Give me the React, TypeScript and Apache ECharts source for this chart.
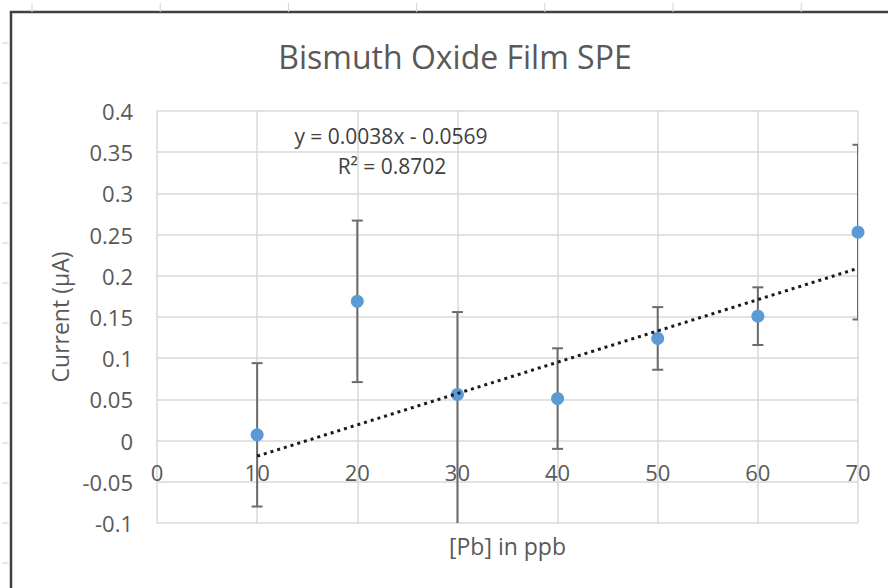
import React, { useEffect, useRef } from "react";
import * as echarts from "echarts";

const chartTitle = "Bismuth Oxide Film SPE";
const xAxisTitle = "[Pb] in ppb";
const yAxisTitle = "Current (µA)";

const concentrations = [10, 20, 30, 40, 50, 60, 70];
const currents = [0.007, 0.169, 0.056, 0.051, 0.124, 0.151, 0.253];
const errorPlus = [0.087, 0.098, 0.1, 0.061, 0.038, 0.035, 0.106];
const errorMinus = [0.087, 0.098, 0.17, 0.061, 0.038, 0.035, 0.106];

const trendSlope = 0.0038;
const trendIntercept = -0.0569;
const trendFrom = 10;
const trendTo = 70;
const trendEquation = "y = 0.0038x - 0.0569";
const trendR2 = "R² = 0.8702";

const xMin = 0, xMax = 70, xStep = 10;
const yMin = -0.1, yMax = 0.4, yStep = 0.05;

const FONT = "Open Sans";

export default function App() {
  const ref = useRef<HTMLDivElement>(null);

  useEffect(() => {
    if (!ref.current) return;
    const chart = echarts.init(ref.current, undefined, { renderer: "svg" });

    const scatterData = concentrations.map((x, i) => [x, currents[i]]);
    const errData = concentrations.map((x, i) => [
      x,
      currents[i],
      currents[i] - errorMinus[i],
      currents[i] + errorPlus[i],
    ]);
    const trendData = [
      [trendFrom, trendSlope * trendFrom + trendIntercept],
      [trendTo, trendSlope * trendTo + trendIntercept],
    ];

    const decor: any[] = [];
    for (let i = 0; i < 7; i++) {
      const x = 32 + i * 128.2;
      decor.push({
        type: "line",
        z: -5,
        shape: { x1: x, y1: 3, x2: x, y2: 12 },
        style: { stroke: "#d4d4d4", lineWidth: 1 },
      });
    }
    for (let i = 0; i < 14; i++) {
      const y = 43 + i * 40;
      decor.push({
        type: "line",
        z: -5,
        shape: { x1: 2, y1: y, x2: 10, y2: y },
        style: { stroke: "#d4d4d4", lineWidth: 1 },
      });
    }

    const option: any = {
      animation: false,
      backgroundColor: "#ffffff",
      textStyle: { fontFamily: FONT },
      grid: {
        left: 157,
        right: 30,
        top: 111,
        bottom: 65,
        containLabel: false,
        outerBoundsMode: "none",
      },
      xAxis: {
        type: "value",
        min: xMin,
        max: xMax,
        interval: xStep,
        name: xAxisTitle,
        nameLocation: "middle",
        nameGap: 11,
        nameTextStyle: { color: "#595959", fontSize: 23, fontFamily: FONT },
        axisLine: { show: false, onZero: false },
        axisTick: { show: false },
        axisLabel: { color: "#595959", fontSize: 22, margin: -62, fontFamily: FONT },
        splitLine: { show: true, lineStyle: { color: "#d9d9d9", width: 1.5 } },
      },
      yAxis: {
        type: "value",
        min: yMin,
        max: yMax,
        interval: yStep,
        name: yAxisTitle,
        nameLocation: "middle",
        nameGap: 83,
        nameTextStyle: { color: "#595959", fontSize: 23, fontFamily: FONT },
        axisLine: { show: false },
        axisTick: { show: false },
        axisLabel: {
          color: "#595959",
          fontSize: 22,
          margin: 24,
          fontFamily: FONT,
          formatter: (v: number) => String(parseFloat(v.toFixed(2))),
        },
        splitLine: { show: true, lineStyle: { color: "#d9d9d9", width: 1.5 } },
      },
      graphic: [
        {
          type: "rect",
          z: -10,
          shape: { x: 11, y: 12, width: 1000, height: 1000 },
          style: { fill: "#ffffff", stroke: "#404040", lineWidth: 2.5 },
        },
        ...decor,
        {
          type: "text",
          x: 455,
          y: 56,
          style: {
            text: chartTitle,
            fill: "#595959",
            font: `32px ${FONT}`,
            textAlign: "center",
            textVerticalAlign: "middle",
          },
        },
        {
          type: "text",
          x: 391,
          y: 136,
          z: 10,
          style: {
            text: trendEquation,
            fill: "#404040",
            font: `21px ${FONT}`,
            textAlign: "center",
            textVerticalAlign: "middle",
          },
        },
        {
          type: "text",
          x: 392,
          y: 166,
          z: 10,
          style: {
            text: trendR2,
            fill: "#404040",
            font: `21px ${FONT}`,
            textAlign: "center",
            textVerticalAlign: "middle",
          },
        },
      ],
      series: [
        {
          type: "custom",
          name: "error",
          z: 2,
          clip: true,
          data: errData,
          renderItem: (params: any, api: any) => {
            const x = api.value(0);
            const lo = api.value(2);
            const hi = api.value(3);
            const top = api.coord([x, hi]);
            const bot = api.coord([x, lo]);
            const cap = 5.5;
            const style = { stroke: "#6b6b6b", lineWidth: 2 };
            return {
              type: "group",
              children: [
                { type: "line", shape: { x1: top[0], y1: top[1], x2: bot[0], y2: bot[1] }, style },
                { type: "line", shape: { x1: top[0] - cap, y1: top[1], x2: top[0] + cap, y2: top[1] }, style },
                { type: "line", shape: { x1: bot[0] - cap, y1: bot[1], x2: bot[0] + cap, y2: bot[1] }, style },
              ],
            };
          },
        },
        {
          type: "scatter",
          name: "Current",
          z: 3,
          symbol: "circle",
          symbolSize: 13,
          itemStyle: { color: "#5b9bd5", opacity: 1 },
          data: scatterData,
        },
        {
          type: "line",
          name: "Linear trend",
          z: 4,
          showSymbol: false,
          symbol: "none",
          lineStyle: { color: "#1a1a1a", width: 3, type: [3, 4] },
          data: trendData,
        },
      ],
    };

    chart.setOption(option);
    return () => chart.dispose();
  }, []);

  return (
    <div
      ref={ref}
      style={{ position: "fixed", left: 0, top: 0, width: 888, height: 588 }}
    />
  );
}
